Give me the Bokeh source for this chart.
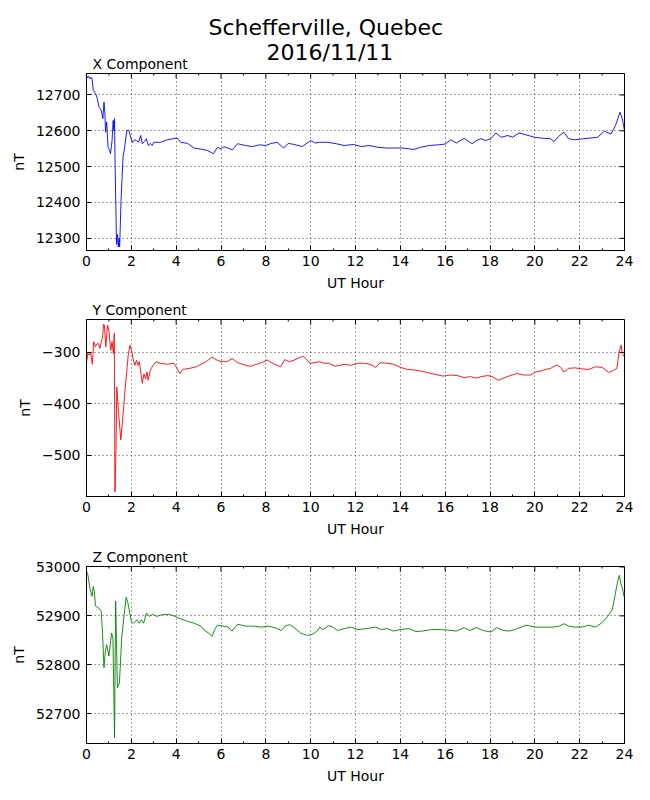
import math
from bokeh.plotting import figure
from bokeh.models import (Range1d, SingleIntervalTicker, FixedTicker, Title,
                          CustomJSTickFormatter)
from bokeh.layouts import column
from bokeh.embed import file_html
from bokeh.resources import INLINE

FONT = "DejaVu Sans"

# ---------------- data (UT hour, nT) ----------------
x_hours = [0.00, 0.05, 0.10, 0.15, 0.20, 0.25, 0.30, 0.41, 0.48, 0.56, 0.66, 0.73, 0.78, 0.82,
           0.85, 0.90, 0.96, 1.02, 1.07, 1.14, 1.19, 1.22, 1.25, 1.27, 1.30, 1.34, 1.38, 1.42,
           1.45, 1.48, 1.54, 1.63, 1.70, 1.80, 1.89, 1.97, 2.05, 2.15, 2.23, 2.32, 2.42, 2.49,
           2.58, 2.67, 2.76, 2.85, 2.93, 3.00, 3.30, 3.60, 4.04, 4.20, 4.50, 4.80, 5.10, 5.40,
           5.66, 5.84, 6.00, 6.13, 6.30, 6.50, 6.74, 7.10, 7.40, 7.72, 8.00, 8.20, 8.50, 8.80,
           9.00, 9.26, 9.63, 10.00, 10.20, 10.40, 10.77, 11.14, 11.50, 11.90, 12.26, 12.60,
           13.00, 13.40, 13.77, 14.10, 14.60, 14.90, 15.30, 15.70, 16.00, 16.25, 16.50, 16.85,
           17.20, 17.40, 17.60, 17.80, 18.04, 18.26, 18.50, 18.80, 19.00, 19.30, 19.60, 19.98,
           20.40, 20.70, 20.86, 21.05, 21.30, 21.50, 21.80, 22.17, 22.50, 22.80, 23.10, 23.40,
           23.60, 23.80, 23.90, 24.00]
x_values = [12755, 12748, 12752, 12745, 12750, 12745, 12713, 12704, 12690, 12666, 12657, 12634,
            12680, 12650, 12596, 12625, 12554, 12548, 12536, 12573, 12629, 12600, 12634, 12526,
            12420, 12283, 12311, 12276, 12300, 12276, 12405, 12526, 12554, 12601, 12602, 12582,
            12568, 12575, 12573, 12568, 12587, 12564, 12570, 12578, 12559, 12565, 12559, 12568,
            12568, 12575, 12580, 12568, 12565, 12552, 12549, 12545, 12536, 12554, 12549, 12556,
            12552, 12547, 12564, 12559, 12556, 12561, 12559, 12564, 12568, 12552, 12565, 12562,
            12556, 12573, 12566, 12568, 12568, 12564, 12559, 12562, 12556, 12559, 12554, 12552,
            12552, 12552, 12548, 12554, 12559, 12561, 12563, 12575, 12566, 12579, 12564, 12573,
            12578, 12573, 12578, 12594, 12582, 12587, 12582, 12594, 12589, 12582, 12579, 12578,
            12570, 12584, 12596, 12578, 12575, 12578, 12580, 12582, 12599, 12591, 12615, 12652,
            12634, 12601]

y_hours = [0.00, 0.06, 0.12, 0.18, 0.26, 0.32, 0.40, 0.47, 0.53, 0.60, 0.66, 0.72, 0.76, 0.80,
           0.86, 0.94, 1.00, 1.08, 1.14, 1.20, 1.24, 1.27, 1.32, 1.35, 1.42, 1.53, 1.62, 1.72,
           1.80, 1.87, 1.94, 2.01, 2.09, 2.16, 2.23, 2.30, 2.36, 2.42, 2.49, 2.56, 2.64, 2.70,
           2.75, 2.85, 2.97, 3.10, 3.30, 3.60, 3.90, 4.04, 4.16, 4.30, 4.60, 4.90, 5.20, 5.40,
           5.60, 5.78, 6.00, 6.25, 6.50, 6.75, 7.10, 7.30, 7.60, 7.85, 8.07, 8.30, 8.66, 8.84,
           9.05, 9.26, 9.55, 9.70, 9.85, 9.97, 10.15, 10.40, 10.60, 10.80, 11.10, 11.50, 11.80,
           12.10, 12.40, 12.65, 12.90, 13.10, 13.40, 13.70, 14.00, 14.30, 14.60, 14.90, 15.20,
           15.50, 15.90, 16.25, 16.55, 16.85, 17.10, 17.40, 17.60, 17.90, 18.10, 18.38, 18.60,
           18.90, 19.20, 19.50, 19.80, 20.04, 20.27, 20.50, 20.70, 20.86, 21.00, 21.15, 21.30,
           21.50, 21.80, 22.10, 22.40, 22.70, 23.00, 23.30, 23.50, 23.66, 23.76, 23.85, 23.90,
           24.00]
y_values = [-320, -302, -305, -300, -323, -279, -289, -283, -283, -292, -279, -270, -245, -247,
            -289, -247, -257, -296, -279, -302, -263, -571, -477, -367, -412, -470, -426, -373,
            -334, -302, -286, -296, -315, -325, -315, -325, -318, -338, -360, -342, -351, -338,
            -354, -334, -325, -318, -321, -323, -321, -331, -341, -333, -331, -328, -321, -316,
            -309, -314, -318, -318, -312, -320, -325, -327, -323, -319, -315, -321, -328, -314,
            -318, -315, -309, -308, -315, -321, -320, -318, -321, -321, -327, -323, -325,
            -321, -321, -323, -329, -320, -321, -323, -329, -333, -334, -336, -339,
            -342, -346, -344, -345, -349, -347, -350, -347, -345, -347, -354, -350,
            -345, -341, -344, -344, -338, -336, -333, -331, -327, -325, -329, -338,
            -331, -330, -332, -333, -328, -329, -339, -335, -331, -299, -286, -302,
            -309]

z_hours = [0.00, 0.06, 0.15, 0.25, 0.30, 0.35, 0.40, 0.55, 0.66, 0.72, 0.78, 0.84, 0.90, 1.00,
           1.12, 1.18, 1.25, 1.30, 1.38, 1.47, 1.57, 1.68, 1.77, 1.85, 1.93, 2.00, 2.10, 2.25,
           2.35, 2.45, 2.55, 2.67, 2.80, 2.95, 3.14, 3.43, 3.70, 3.95, 4.20, 4.50, 4.80, 5.10,
           5.30, 5.45, 5.60, 5.72, 5.84, 6.10, 6.30, 6.50, 6.74, 7.10, 7.45, 7.80, 8.10, 8.40,
           8.70, 8.85, 9.07, 9.26, 9.55, 9.85, 10.10, 10.30, 10.40, 10.55, 10.80, 11.00, 11.20,
           11.50, 11.80, 12.10, 12.50, 12.90, 13.15, 13.40, 13.70, 14.00, 14.40, 14.70, 15.00,
           15.40, 15.80, 16.10, 16.50, 16.85, 17.10, 17.40, 17.70, 18.04, 18.30, 18.60, 18.90,
           19.20, 19.40, 19.60, 20.04, 20.40, 20.80, 21.10, 21.30, 21.50, 21.80, 22.10, 22.40,
           22.70, 23.00, 23.25, 23.46, 23.58, 23.68, 23.77, 23.83, 23.90, 23.98, 24.00]
z_values = [52992, 52984, 52957, 52940, 52960, 52950, 52920, 52916, 52909, 52860, 52794, 52828,
            52841, 52818, 52865, 52855, 52651, 52930, 52753, 52763, 52855, 52903, 52938, 52926,
            52906, 52889, 52885, 52892, 52885, 52892, 52885, 52906, 52899, 52903, 52899, 52903,
            52903, 52899, 52894, 52889, 52885, 52879, 52869, 52865, 52858, 52872, 52881, 52879,
            52877, 52869, 52883, 52879, 52879, 52877, 52879, 52876, 52870, 52879, 52882, 52876,
            52865, 52860, 52863, 52869, 52877, 52872, 52880, 52877, 52870, 52874, 52877, 52872,
            52874, 52877, 52872, 52874, 52869, 52872, 52874, 52868, 52869, 52872, 52872, 52871,
            52869, 52876, 52870, 52876, 52870, 52867, 52876, 52870, 52869, 52874, 52877, 52881,
            52877, 52877, 52877, 52879, 52884, 52879, 52877, 52877, 52881, 52877, 52886, 52899,
            52913, 52943, 52967, 52983, 52967, 52957, 52940, 52950]

hour_major = [0, 2, 4, 6, 8, 10, 12, 14, 16, 18, 20, 22, 24]
hour_minor = [1, 3, 5, 7, 9, 11, 13, 15, 17, 19, 21, 23]
x_ticks = [12300, 12400, 12500, 12600, 12700]
y_ticks = [-500, -400, -300]
z_ticks = [52700, 52800, 52900, 53000]

SUPTITLE_1 = "Schefferville, Quebec"
SUPTITLE_2 = "2016/11/11"

minus_fmt = CustomJSTickFormatter(code="return tick < 0 ? '\u2212' + Math.abs(tick) : '' + tick;")


def style_axis(ax):
    ax.axis_line_color = "black"
    ax.major_tick_line_color = "black"
    ax.minor_tick_line_color = "black"
    ax.major_tick_in = 5
    ax.major_tick_out = 0
    ax.minor_tick_in = 2
    ax.minor_tick_out = 0
    ax.major_label_text_font = FONT
    ax.major_label_text_color = "black"
    ax.major_label_text_font_size = "14px"
    ax.axis_label_text_font = FONT
    ax.axis_label_text_font_style = "normal"
    ax.axis_label_text_font_size = "14px"
    ax.axis_label_text_color = "black"


def make_panel(hours, vals, color, ylo, yhi, yticks, title, top, bottom, title_standoff):
    height = top + 177 + bottom
    p = figure(width=642, height=height, output_backend="svg", toolbar_location=None,
               x_range=Range1d(0, 24), y_range=Range1d(ylo, yhi),
               min_border_left=86, min_border_right=18, min_border_top=top,
               min_border_bottom=bottom, background_fill_color="white",
               border_fill_color="white", outline_line_color="black")

    xt = SingleIntervalTicker(interval=2, num_minor_ticks=2)
    yt = FixedTicker(ticks=yticks)
    p.xaxis.ticker = xt
    p.yaxis.ticker = yt
    p.yaxis.formatter = minus_fmt
    for ax in p.xaxis:
        style_axis(ax)
        ax.axis_label = "UT Hour"
        ax.major_label_standoff = 5
        ax.axis_label_standoff = 6
    for ax in p.yaxis:
        style_axis(ax)
        ax.axis_label = "nT"
        ax.major_label_standoff = 6
        ax.axis_label_standoff = 6

    p.xgrid.ticker = xt
    p.ygrid.ticker = yt
    p.grid.grid_line_color = "black"
    p.grid.grid_line_width = 0.8
    p.grid.grid_line_dash = "1 3"
    p.grid.grid_line_alpha = 0.9

    # mirrored inward ticks on the top and right frame edges (half of each dash is clipped)
    p.scatter(hour_major, [yhi] * len(hour_major), marker="dash", size=10,
              angle=math.pi / 2, line_color="black", line_width=1)
    p.scatter(hour_minor, [yhi] * len(hour_minor), marker="dash", size=4,
              angle=math.pi / 2, line_color="black", line_width=1)
    p.scatter([24] * len(yticks), yticks, marker="dash", size=10,
              line_color="black", line_width=1)

    p.line(hours, vals, line_color=color, line_width=0.9)

    p.add_layout(Title(text=title, align="left", offset=6, text_font=FONT,
                       text_font_size="14px", text_font_style="normal",
                       text_color="black", standoff=title_standoff), "above")
    return p


p1 = make_panel(x_hours, x_values, "blue", 12266, 12760, x_ticks, "X Component", 73, 46, 3)
p2 = make_panel(y_hours, y_values, "red", -580, -236, y_ticks, "Y Component", 23, 46, 3)
p3 = make_panel(z_hours, z_values, "green", 52639, 53001, z_ticks, "Z Component", 24, 48, 3)

p1.add_layout(Title(text=SUPTITLE_2, align="left", offset=180, text_font=FONT,
                    text_font_size="22px", text_font_style="normal",
                    text_color="black", standoff=-25), "above")
p1.add_layout(Title(text=SUPTITLE_1, align="left", offset=122, text_font=FONT,
                    text_font_size="22px", text_font_style="normal",
                    text_color="black", standoff=22), "above")

layout = column(p1, p2, p3, spacing=0)

with open("out.html", "w") as f:
    f.write(file_html(layout, INLINE))
